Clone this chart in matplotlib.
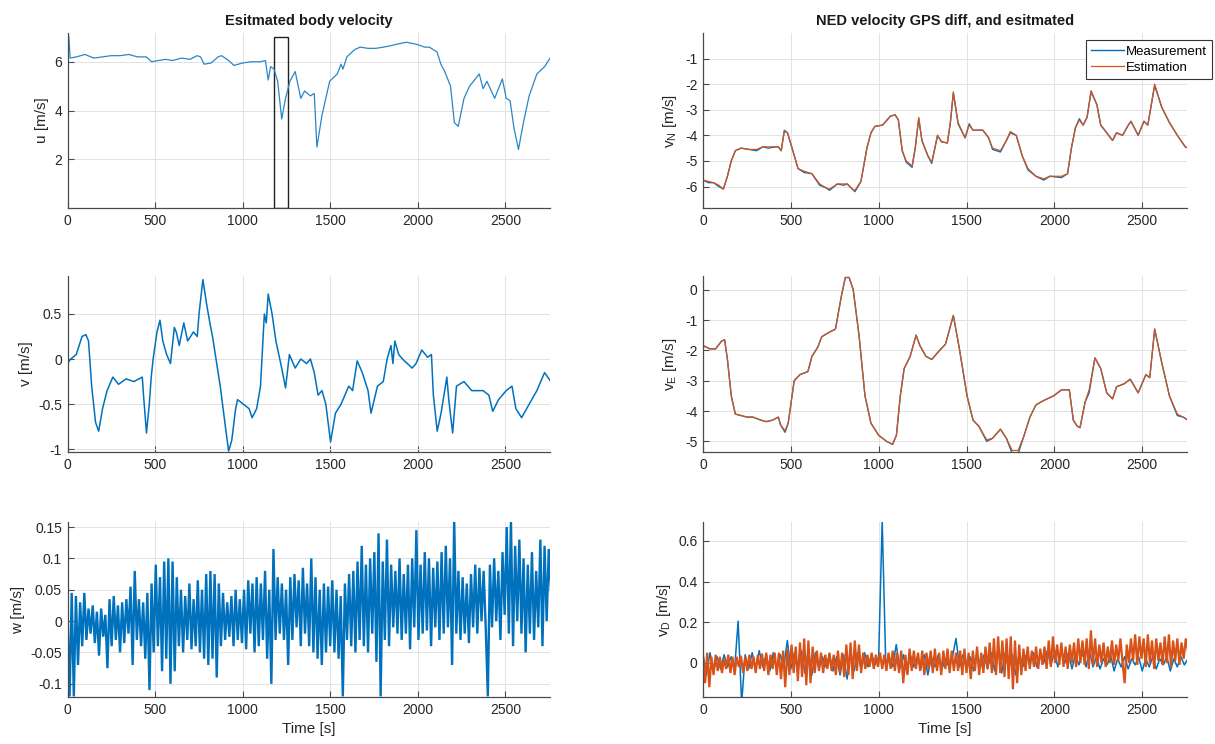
import numpy as np
import matplotlib
matplotlib.use("Agg")
import matplotlib.pyplot as plt
from matplotlib.patches import Rectangle

plt.rcParams.update({
    "font.family": ["Liberation Sans", "DejaVu Sans"],
    "axes.unicode_minus": False,
    "mathtext.default": "regular",
})

BLUE = "#0072BD"
ORANGE = "#D95319"

# ---- body velocity u ----
u_time = [0, 3, 8, 15, 50, 100, 150, 200, 250, 300,
          350, 400, 450, 480, 520, 560, 600, 650, 700, 740,
          760, 780, 820, 860, 880, 920, 950, 1000, 1050, 1100,
          1130, 1146, 1160, 1179, 1200, 1223, 1245, 1270, 1300, 1332,
          1354, 1387, 1409, 1424, 1453, 1497, 1540, 1562, 1573, 1595,
          1640, 1672, 1716, 1760, 1803, 1840, 1869, 1900, 1935, 1970,
          2001, 2040, 2066, 2110, 2132, 2154, 2187, 2209, 2231, 2264,
          2296, 2329, 2351, 2373, 2395, 2439, 2483, 2505, 2527, 2549,
          2575, 2603, 2636, 2680, 2724, 2760]
u_vals = [0.0, 7.2, 7.0, 6.15, 6.2, 6.3, 6.15, 6.2, 6.25, 6.25,
          6.3, 6.2, 6.2, 6.0, 6.05, 6.1, 6.05, 6.15, 6.1, 6.25,
          6.2, 5.9, 5.95, 6.2, 6.25, 6.05, 5.85, 5.95, 6.0, 6.0,
          6.05, 5.25, 5.8, 5.7, 5.2, 3.65, 4.5, 5.2, 5.6, 4.5,
          4.8, 4.6, 4.7, 2.5, 3.8, 5.2, 5.5, 5.9, 5.7, 6.2,
          6.5, 6.6, 6.55, 6.55, 6.6, 6.65, 6.7, 6.75, 6.8, 6.75,
          6.7, 6.6, 6.6, 6.4, 5.9, 5.6, 5.0, 3.5, 3.35, 4.5,
          5.0, 5.3, 5.5, 4.9, 5.2, 4.5, 5.3, 4.5, 4.4, 3.3,
          2.4, 3.5, 4.6, 5.5, 5.8, 6.2]

# highlighted time window
win_start, win_end, win_top = 1180, 1258, 7.0

# ---- body velocity v ----
v_time = [0, 18, 50, 83, 105, 120, 138, 160, 178, 200,
          226, 259, 291, 335, 379, 427, 434, 451, 467, 478,
          489, 511, 528, 544, 566, 588, 610, 621, 638, 664,
          686, 719, 741, 751, 773, 795, 813, 828, 872, 905,
          920, 938, 960, 971, 1004, 1037, 1054, 1080, 1102, 1124,
          1135, 1146, 1168, 1190, 1223, 1245, 1267, 1300, 1332, 1365,
          1387, 1409, 1431, 1453, 1475, 1502, 1530, 1562, 1606, 1628,
          1654, 1683, 1716, 1733, 1770, 1803, 1825, 1847, 1858, 1869,
          1891, 1913, 1968, 1990, 2023, 2056, 2078, 2089, 2111, 2133,
          2166, 2177, 2199, 2221, 2264, 2308, 2373, 2406, 2428, 2461,
          2505, 2538, 2560, 2593, 2636, 2680, 2724, 2760]
v_vals = [-0.05, 0.0, 0.05, 0.25, 0.27, 0.2, -0.3, -0.7, -0.8, -0.55,
          -0.35, -0.2, -0.28, -0.22, -0.25, -0.2, -0.4, -0.82, -0.5, -0.2,
          0.0, 0.3, 0.43, 0.2, 0.05, -0.05, 0.35, 0.3, 0.15, 0.4,
          0.2, 0.3, 0.25, 0.5, 0.88, 0.6, 0.4, 0.25, -0.3, -0.8,
          -1.02, -0.9, -0.55, -0.45, -0.5, -0.55, -0.65, -0.55, -0.3, 0.5,
          0.4, 0.72, 0.5, 0.2, -0.1, -0.32, 0.05, -0.1, 0.0, -0.05,
          0.0, -0.15, -0.4, -0.35, -0.5, -0.92, -0.6, -0.5, -0.3, -0.35,
          -0.02, -0.15, -0.35, -0.6, -0.3, -0.25, 0.0, 0.15, -0.05, 0.2,
          0.05, 0.0, -0.1, -0.05, 0.1, 0.02, 0.05, -0.4, -0.8, -0.6,
          -0.2, -0.45, -0.82, -0.3, -0.25, -0.35, -0.35, -0.4, -0.58, -0.45,
          -0.35, -0.3, -0.55, -0.65, -0.5, -0.35, -0.15, -0.25]

# ---- body velocity w (12 s samples) ----
noise_step = 12
w_vals = [0.010, -0.120, 0.045, -0.120, 0.040, -0.070, 0.030, -0.040, 0.045, -0.030,
          0.020, -0.020, 0.025, -0.035, 0.015, -0.055, 0.020, -0.025, 0.010, -0.075, 0.035,
          -0.040, 0.040, -0.030, 0.025, -0.050, 0.030, -0.035, 0.035, -0.020, 0.055,
          -0.070, 0.080, -0.030, 0.035, -0.040, 0.030, -0.060, 0.045, -0.110, 0.060,
          -0.050, 0.090, -0.040, 0.070, -0.080, 0.095, -0.060, 0.100, -0.100, 0.095,
          -0.080, 0.070, -0.040, 0.050, -0.050, 0.040, -0.030, 0.060, -0.045, 0.035,
          -0.040, 0.065, -0.050, 0.050, -0.060, 0.075, -0.070, 0.080, -0.060, 0.075,
          -0.090, 0.060, -0.040, 0.045, -0.030, 0.030, -0.025, 0.040, -0.040, 0.050,
          -0.030, 0.035, -0.035, 0.050, -0.045, 0.065, -0.020, 0.060, -0.050, 0.070,
          -0.040, 0.060, -0.030, 0.080, -0.060, 0.050, -0.100, 0.115, -0.030, 0.070,
          -0.020, 0.060, -0.030, 0.050, -0.070, 0.070, -0.030, 0.075, -0.010, 0.065,
          -0.040, 0.085, -0.020, 0.060, -0.040, 0.100, -0.050, 0.070, -0.060, 0.050,
          -0.070, 0.060, -0.050, 0.055, -0.040, 0.065, -0.050, 0.050, -0.060, 0.040,
          -0.120, 0.060, -0.030, 0.075, -0.040, 0.080, -0.050, 0.095, -0.030, 0.120,
          -0.040, 0.090, -0.050, 0.100, -0.020, 0.110, -0.065, 0.140, -0.120, 0.095,
          -0.030, 0.130, -0.040, 0.090, -0.010, 0.080, -0.020, 0.100, -0.030, 0.075,
          -0.020, 0.090, -0.045, 0.100, -0.010, 0.145, -0.030, 0.090, -0.020, 0.110,
          -0.015, 0.100, -0.040, 0.085, -0.010, 0.095, -0.030, 0.110, -0.020, 0.120,
          -0.010, 0.100, -0.070, 0.160, -0.020, 0.080, -0.030, 0.070, -0.020, 0.060,
          -0.035, 0.075, -0.010, 0.090, -0.020, 0.085, 0.000, 0.080, -0.010, -0.120,
          0.090, -0.010, 0.100, 0.000, 0.080, -0.030, 0.110, 0.010, 0.150, -0.020,
          0.160, -0.040, 0.120, 0.000, 0.130, -0.020, 0.100, -0.050, 0.090, -0.020,
          0.110, -0.030, 0.080, -0.010, 0.130, -0.040, 0.120, 0.000, 0.115, 0.050]

# ---- NED north velocity ----
vn_time = [0, 0, 0, 30, 60, 90, 116, 139, 161, 184, 217, 260, 306,
           340, 373, 410, 429, 445, 463, 481, 507, 541, 575,
           620, 664, 700, 720, 765, 800, 821, 850, 865, 899,
           933, 956, 978, 1022, 1067, 1094, 1112, 1134, 1157, 1190,
           1208, 1228, 1246, 1280, 1302, 1335, 1357, 1391, 1408, 1425,
           1452, 1492, 1515, 1537, 1593, 1626, 1648, 1693, 1727, 1749,
           1783, 1817, 1850, 1895, 1940, 1974, 2041, 2075, 2097, 2120,
           2142, 2164, 2186, 2209, 2242, 2264, 2298, 2331, 2354, 2388,
           2421, 2436, 2477, 2510, 2532, 2571, 2611, 2655, 2700, 2745, 2760]
vn_est = [0.0, -6.84, -5.75, -5.8, -5.85, -5.95, -6.1, -5.6, -5.0, -4.6, -4.5, -4.55, -4.55,
          -4.45, -4.45, -4.45, -4.45, -4.6, -3.85, -3.9, -4.5, -5.3, -5.4,
          -5.5, -5.9, -6.05, -6.1, -5.9, -5.9, -5.9, -6.1, -6.15, -5.8,
          -4.5, -3.9, -3.65, -3.6, -3.25, -3.2, -3.4, -4.6, -5.0, -5.2,
          -4.5, -3.3, -4.2, -4.8, -5.05, -4.0, -4.25, -4.3, -3.5, -2.3,
          -3.5, -4.1, -3.6, -3.8, -3.8, -4.1, -4.5, -4.6, -4.2, -3.85,
          -4.0, -4.8, -5.3, -5.6, -5.7, -5.6, -5.6, -5.5, -4.5, -3.7,
          -3.4, -3.6, -3.3, -2.25, -2.8, -3.6, -3.9, -4.2, -3.9, -4.0,
          -3.6, -3.45, -4.0, -3.45, -3.6, -2.0, -2.9, -3.5, -4.0, -4.45, -4.5]
vn_meas = [-5.75, -5.75, -5.75, -5.85, -5.85, -6.0, -6.1, -5.6, -5.0, -4.6, -4.5, -4.55, -4.6,
           -4.45, -4.5, -4.45, -4.45, -4.6, -3.8, -3.9, -4.5, -5.3, -5.45,
           -5.5, -5.95, -6.05, -6.15, -5.9, -5.95, -5.9, -6.1, -6.2, -5.8,
           -4.5, -3.9, -3.65, -3.6, -3.25, -3.2, -3.4, -4.6, -5.05, -5.25,
           -4.5, -3.35, -4.2, -4.8, -5.1, -4.0, -4.25, -4.3, -3.5, -2.35,
           -3.55, -4.1, -3.55, -3.8, -3.8, -4.1, -4.55, -4.65, -4.2, -3.9,
           -4.0, -4.8, -5.35, -5.6, -5.75, -5.6, -5.65, -5.5, -4.5, -3.7,
           -3.35, -3.6, -3.3, -2.3, -2.8, -3.6, -3.9, -4.2, -3.9, -4.0,
           -3.6, -3.45, -4.0, -3.45, -3.6, -2.05, -2.9, -3.5, -4.0, -4.45, -4.5]

# ---- NED east velocity ----
ve_time = [0, 0, 4, 38, 72, 105, 123, 139, 161, 184,
           217, 250, 284, 329, 360, 396, 429, 441, 467, 485,
           519, 552, 597, 620, 653, 676, 720, 754, 788, 810,
           832, 855, 888, 922, 956, 1000, 1045, 1079, 1101, 1123,
           1145, 1179, 1213, 1235, 1269, 1302, 1347, 1380, 1425, 1458,
           1503, 1537, 1570, 1615, 1648, 1693, 1727, 1760, 1794, 1828,
           1861, 1895, 1940, 1996, 2041, 2085, 2108, 2130, 2146, 2175,
           2198, 2231, 2264, 2298, 2331, 2354, 2398, 2432, 2477, 2521,
           2543, 2571, 2611, 2655, 2700, 2733, 2760]
ve_est = [0.3, -2.15, -1.85, -1.95, -1.95, -1.7, -1.65, -2.3, -3.5, -4.1,
          -4.15, -4.2, -4.2, -4.3, -4.35, -4.3, -4.2, -4.45, -4.65, -4.4,
          -3.0, -2.8, -2.7, -2.2, -1.9, -1.55, -1.4, -1.3, -0.2, 0.4,
          0.4, 0.0, -1.5, -3.5, -4.4, -4.8, -5.0, -5.1, -4.8, -3.5,
          -2.6, -2.2, -1.5, -1.85, -2.2, -2.3, -2.0, -1.8, -0.85, -1.9,
          -3.5, -4.3, -4.5, -4.95, -4.9, -4.6, -4.9, -5.3, -5.3, -4.8,
          -4.2, -3.8, -3.65, -3.5, -3.3, -3.3, -4.3, -4.5, -4.55, -3.7,
          -3.3, -2.25, -2.6, -3.4, -3.6, -3.2, -3.1, -2.95, -3.4, -2.8,
          -2.9, -1.3, -2.4, -3.5, -4.1, -4.2, -4.3]
ve_meas = [-1.85, -1.85, -1.85, -1.95, -1.95, -1.7, -1.65, -2.3, -3.5, -4.1,
           -4.15, -4.2, -4.2, -4.3, -4.35, -4.3, -4.2, -4.45, -4.7, -4.4,
           -3.0, -2.8, -2.7, -2.2, -1.9, -1.55, -1.4, -1.3, -0.2, 0.4,
           0.4, 0.0, -1.5, -3.5, -4.4, -4.8, -5.0, -5.1, -4.8, -3.5,
           -2.6, -2.2, -1.5, -1.85, -2.2, -2.3, -2.0, -1.8, -0.85, -1.9,
           -3.5, -4.3, -4.5, -5.0, -4.9, -4.6, -4.9, -5.4, -5.4, -4.8,
           -4.2, -3.8, -3.65, -3.5, -3.3, -3.3, -4.3, -4.5, -4.55, -3.7,
           -3.4, -2.25, -2.6, -3.4, -3.6, -3.2, -3.1, -2.95, -3.4, -2.8,
           -2.9, -1.3, -2.4, -3.5, -4.15, -4.2, -4.3]

# ---- NED down velocity ----
vd_est = [0.040, -0.100, 0.050, -0.120, 0.030, -0.060, 0.040, -0.040, 0.030, -0.050,
          0.020, -0.030, 0.040, -0.050, 0.030, -0.060, 0.030, -0.020, 0.035, -0.050, 0.030,
          -0.040, 0.040, -0.030, 0.030, -0.050, 0.040, -0.030, 0.045, -0.040, 0.050,
          -0.060, 0.040, -0.030, 0.050, -0.060, 0.050, -0.080, 0.060, -0.120, 0.070,
          -0.060, 0.090, -0.050, 0.080, -0.090, 0.100, -0.070, 0.120, -0.110, 0.110,
          -0.100, 0.080, -0.050, 0.060, -0.040, 0.050, -0.050, 0.040, -0.030, 0.050,
          -0.040, 0.040, -0.060, 0.060, -0.050, 0.050, -0.070, 0.090, -0.060, 0.100,
          -0.080, 0.110, -0.040, 0.090, -0.050, 0.050, -0.030, 0.040, -0.020, 0.050,
          -0.030, 0.040, -0.020, 0.050, -0.030, 0.040, -0.040, 0.050, -0.030, 0.060,
          -0.040, 0.050, -0.050, 0.060, -0.100, 0.040, -0.060, 0.070, -0.040, 0.060,
          -0.030, 0.050, -0.040, 0.060, -0.060, 0.050, -0.030, 0.060, -0.050, 0.070,
          -0.040, 0.050, -0.060, 0.060, -0.030, 0.070, -0.050, 0.060, -0.040, 0.050,
          -0.040, 0.060, -0.060, 0.070, -0.050, 0.050, -0.080, 0.060, -0.040, 0.080,
          -0.060, 0.050, -0.050, 0.080, -0.030, 0.100, -0.050, 0.120, -0.060, 0.130,
          -0.050, 0.110, -0.070, 0.120, -0.080, 0.130, -0.130, 0.110, -0.100, 0.090,
          -0.060, 0.070, -0.040, 0.080, -0.030, 0.060, -0.020, 0.080, -0.030, 0.070,
          -0.010, 0.080, -0.030, 0.110, -0.020, 0.130, 0.000, 0.090, -0.010, 0.100,
          -0.020, 0.080, -0.030, 0.090, 0.000, 0.100, -0.020, 0.120, 0.000, 0.110,
          -0.010, 0.120, -0.030, 0.160, -0.010, 0.120, -0.020, 0.090, 0.000, 0.100,
          -0.020, 0.080, 0.000, 0.110, -0.010, 0.090, 0.010, 0.120, 0.000, -0.100,
          0.090, 0.000, 0.120, 0.010, 0.140, -0.010, 0.130, 0.020, 0.120, -0.020,
          0.140, 0.000, 0.110, -0.030, 0.120, 0.010, 0.100, -0.010, 0.130, 0.000,
          0.140, -0.020, 0.110, 0.010, 0.120, -0.010, 0.100, 0.020, 0.120, 0.060]

# GPS-differenced measurement, 20 s samples
meas_step = 20
vd_meas = [0.040, -0.060, 0.050, -0.040, 0.030, -0.030, 0.040, -0.020, 0.030, -0.030,
           0.205, -0.200,
           0.040, -0.030, 0.050, -0.030, 0.060, -0.020, 0.040, -0.040, 0.050, -0.030,
           0.040, -0.020, 0.110, -0.030, 0.050, -0.040, 0.060, -0.050,
           0.070, -0.060, 0.050, -0.030, 0.030, -0.020, 0.040, -0.040, 0.030, -0.060,
           0.040, -0.080, 0.060, -0.040, 0.050, -0.030, 0.050, -0.020, 0.040, -0.010, 0.030,
           0.700,
           0.000, 0.030, -0.020, 0.090, -0.030, 0.040, -0.050, 0.040, -0.020, 0.030,
           -0.030, 0.040, -0.060, 0.030, -0.020, 0.040, -0.030, 0.020, -0.020, 0.030,
           0.120,
           -0.020, 0.040, -0.030, 0.030, -0.040, 0.050, -0.020, 0.040, -0.030, 0.050,
           -0.040, 0.060, -0.050, 0.050, -0.030, 0.040, -0.060, 0.050,
           -0.020, 0.040, -0.010, 0.050, -0.020, 0.040, 0.000, 0.060, -0.010, 0.050,
           -0.020, 0.060, 0.000, 0.050, -0.030, 0.040, -0.010, 0.050, -0.020, 0.060,
           -0.020, 0.030, -0.030, 0.020, -0.010, 0.040, -0.040, 0.020, -0.020, 0.030,
           -0.030, 0.020, -0.010, 0.030, -0.040, 0.020, -0.020, 0.030, -0.030, 0.020,
           -0.010, 0.030, -0.040, 0.020, -0.020, 0.030, -0.010, 0.020]

t_end = 2755
x_ticks = [0, 500, 1000, 1500, 2000, 2500]

fig = plt.figure(figsize=(12.15, 7.44), dpi=100)
W, H = 1215, 744


def make_axes(left_px, right_px, top_px, bottom_px):
    return fig.add_axes([left_px / W, 1 - bottom_px / H,
                         (right_px - left_px) / W, (bottom_px - top_px) / H])


def style(ax, ylim, yticks, ylabels):
    ax.set_xlim(0, t_end)
    ax.set_ylim(*ylim)
    ax.set_xticks(x_ticks)
    ax.set_xticklabels([str(t) for t in x_ticks])
    ax.set_yticks(yticks)
    ax.set_yticklabels(ylabels)
    for side in ("top", "right"):
        ax.spines[side].set_visible(False)
    for side in ("left", "bottom"):
        ax.spines[side].set_color("#4a4a4a")
        ax.spines[side].set_linewidth(0.9)
    ax.tick_params(direction="in", length=4, width=0.8, colors="#4a4a4a",
                   labelcolor="#262626", labelsize=10, pad=4)
    ax.grid(True, color="#e2e2e2", linewidth=0.7)
    ax.set_axisbelow(True)


cols = [(67.5, 550), (703, 1187)]
rows = [(33, 208), (276, 452), (522, 697)]

ax_u = make_axes(*cols[0], *rows[0])
ax_v = make_axes(*cols[0], *rows[1])
ax_w = make_axes(*cols[0], *rows[2])
ax_n = make_axes(*cols[1], *rows[0])
ax_e = make_axes(*cols[1], *rows[1])
ax_d = make_axes(*cols[1], *rows[2])

w_time = np.arange(len(w_vals)) * noise_step
vd_est_time = np.arange(len(vd_est)) * noise_step
vd_meas_time = np.arange(len(vd_meas)) * meas_step

label_kw = dict(fontsize=11, color="#262626")

# left column: body frame
ax_u.plot(u_time, u_vals, color="#2a86c8", lw=0.9)
ax_u.add_patch(Rectangle((win_start, 0), win_end - win_start, win_top,
                         fill=False, edgecolor="#202020", lw=1.0))
style(ax_u, (0, 7.18), [2, 4, 6], ["2", "4", "6"])
ax_u.set_ylabel("u [m/s]", **label_kw)
ax_u.set_title("Esitmated body velocity", fontsize=10.5, fontweight="bold",
               color="#1a1a1a", pad=6)

ax_v.plot(v_time, v_vals, color=BLUE, lw=1.1)
style(ax_v, (-1.03, 0.92), [-1, -0.5, 0, 0.5], ["-1", "-0.5", "0", "0.5"])
ax_v.set_ylabel("v [m/s]", **label_kw)

# dense noisy trace: a wider stroke closes the gaps between samples
ax_w.plot(w_time, w_vals, color=BLUE, lw=1.7, solid_joinstyle="miter")
style(ax_w, (-0.121, 0.158), [-0.1, -0.05, 0, 0.05, 0.1, 0.15],
      ["-0.1", "-0.05", "0", "0.05", "0.1", "0.15"])
ax_w.set_ylabel("w [m/s]", **label_kw)
ax_w.set_xlabel("Time [s]", **label_kw)

# right column: NED frame
ax_n.plot(vn_time, vn_meas, color=BLUE, lw=1.0, label="Measurement")
ax_n.plot(vn_time, vn_est, color=ORANGE, lw=0.9, label="Estimation")
style(ax_n, (-6.84, 0.0), [-6, -5, -4, -3, -2, -1],
      ["-6", "-5", "-4", "-3", "-2", "-1"])
ax_n.set_ylabel("v$_N$ [m/s]", **label_kw)
ax_n.set_title("NED velocity GPS diff, and esitmated", fontsize=10.5,
               fontweight="bold", color="#1a1a1a", pad=6)
leg = ax_n.legend(loc="upper right", bbox_to_anchor=(1212 / W, 1 - 40 / H),
                  bbox_transform=fig.transFigure, fontsize=9.5, frameon=True,
                  fancybox=False, handlelength=2.5, handletextpad=0.1,
                  borderpad=0.4, labelspacing=0.3, borderaxespad=0)
leg.get_frame().set_edgecolor("#333333")
leg.get_frame().set_linewidth(0.8)
leg.get_frame().set_alpha(1)

ax_e.plot(ve_time, ve_meas, color=BLUE, lw=1.0)
ax_e.plot(ve_time, ve_est, color=ORANGE, lw=0.9)
style(ax_e, (-5.35, 0.45), [-5, -4, -3, -2, -1, 0],
      ["-5", "-4", "-3", "-2", "-1", "0"])
ax_e.set_ylabel("v$_E$ [m/s]", **label_kw)

ax_d.plot(vd_meas_time, vd_meas, color=BLUE, lw=1.1)
ax_d.plot(vd_est_time, vd_est, color=ORANGE, lw=1.6, solid_joinstyle="miter")
style(ax_d, (-0.168, 0.693), [0, 0.2, 0.4, 0.6], ["0", "0.2", "0.4", "0.6"])
ax_d.set_ylabel("v$_D$ [m/s]", **label_kw)
ax_d.set_xlabel("Time [s]", **label_kw)

fig.savefig("out.png", dpi=100, facecolor="white")
